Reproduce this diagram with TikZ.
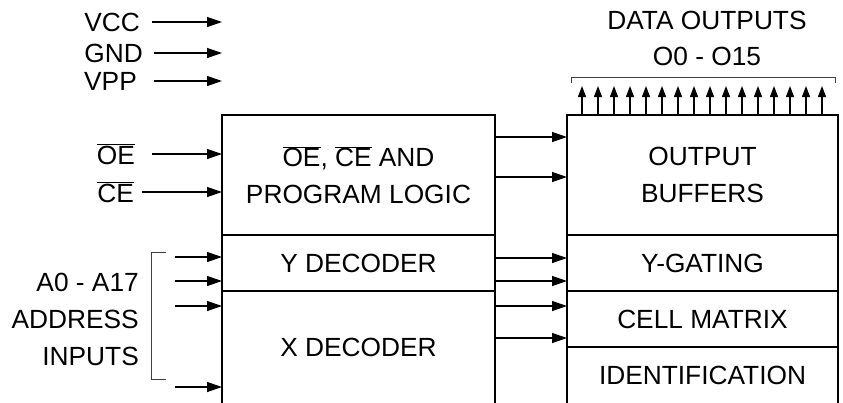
\documentclass[tikz,border=0pt]{standalone}
\usepackage{fontspec}
\setmainfont{Liberation Sans}
\usetikzlibrary{arrows.meta,positioning}
\newcommand{\ovl}[1]{$\overline{\mbox{#1}}$}

\begin{document}
\begin{tikzpicture}[x=1pt,y=-1pt,font=\fontsize{26.3}{37}\selectfont,
		blk/.style={draw,line width=2pt,outer sep=0pt,inner sep=0pt,anchor=north west,align=center},
		lbl/.style={inner sep=0pt,align=right},
		arr/.style={-{Triangle[length=15pt,width=10pt]},line width=1.3pt},
		darr/.style={-{Triangle[length=11pt,width=8pt]},line width=1.3pt},
		brk/.style={line width=0.9pt,black!75}]
		\useasboundingbox (0,0) rectangle (843,402);
		\clip (0,0) rectangle (843,402);
		\node[blk,minimum width=273pt,minimum height=120pt] (logic) at (222,115) {\ovl{OE}, \ovl{CE} AND\\PROGRAM LOGIC};
		\node[blk,minimum width=273pt,minimum height=56pt] (ydec) at (logic.south west) {Y DECODER};
		\node[blk,minimum width=273pt,minimum height=113pt] (xdec) at (ydec.south west) {X DECODER};
		\node[blk,minimum width=271pt,minimum height=120pt] (outbuf) at (567,115) {OUTPUT\\BUFFERS};
		\node[blk,minimum width=271pt,minimum height=56pt] (ygate) at (outbuf.south west) {Y-GATING};
		\node[blk,minimum width=271pt,minimum height=56pt] (cellmx) at (ygate.south west) {CELL MATRIX};
		\node[blk,minimum width=271pt,minimum height=57pt] (ident) at (cellmx.south west) {IDENTIFICATION};
		
		\coordinate (vccin) at (152,22);
		\coordinate (gndin) at (154,53);
		\coordinate (vppin) at (154,81);
		\coordinate (oein) at (152,154);
		\coordinate (cein) at (142,192);
		\node[lbl, left=12pt of vccin] (vcc) {VCC};
		\node[lbl, left=11pt of gndin] (gnd) {GND};
		\node[lbl, left=17pt of vppin] (vpp) {VPP};
		\node[lbl, left=17pt of oein] (oe) {\ovl{OE}};
		\node[lbl, left=8pt of cein] (ce) {\ovl{CE}};
		\foreach \p in {vccin,gndin,vppin,oein,cein}
			\draw[arr] (\p) -- (\p -| logic.west);
		
		\node[lbl, anchor=east] (addr) at (139,319) {A0 - A17\\ADDRESS\\INPUTS};
		\draw[brk] (166,252) -| (151,379) -- (166,379);
		\coordinate (a1) at (175,257);
		\coordinate (a2) at (175,281);
		\coordinate (a3) at (175,306);
		\coordinate (a4) at (175,387);
		\foreach \p in {a1,a2,a3,a4}
			\draw[arr] (\p) -- (\p -| logic.west);
		
		\foreach \d in {22,62}
			\draw[arr] ([yshift=-\d pt]logic.north east) -- ([yshift=-\d pt]outbuf.north west);
		\foreach \d in {23,46}
			\draw[arr] ([yshift=-\d pt]ydec.north east) -- ([yshift=-\d pt]ygate.north west);
		\foreach \d in {15,47}
			\draw[arr] ([yshift=-\d pt]xdec.north east) -- ([yshift=-\d pt]cellmx.north west);
		
		\foreach \i in {0,...,15}
			\draw[darr] ([xshift=15pt+\i*16pt]outbuf.north west) -- ++(0,-29);
		\draw[brk] (571,83) |- (835,77) -- (835,83);
		\node (dout) at (707,20) {DATA OUTPUTS};
		\node (obus) at (707,56) {O0 - O15};
	\end{tikzpicture}
\end{document}
